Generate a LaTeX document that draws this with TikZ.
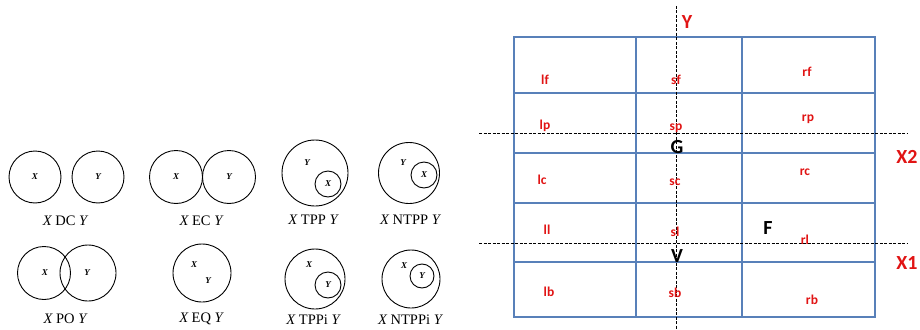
\documentclass[tikz,border=0pt]{standalone}
\usepackage{fontspec}
\setmainfont{Liberation Serif}
\newfontfamily\calfnt{Carlito}
\definecolor{gridblue}{RGB}{88,128,185}
\definecolor{lblred}{RGB}{225,20,20}
\begin{document}
\begin{tikzpicture}[x=1pt,y=-1pt,
  circ/.style={draw,circle,line width=0.9pt,inner sep=0pt},
  ctext/.style={font=\fontsize{9}{10}\selectfont\itshape\bfseries,inner sep=0pt},
  rel/.style={font=\fontsize{14.5}{16}\selectfont,inner sep=0pt},
  grid/.style={draw=gridblue,line width=1.3pt},
  cell/.style={font=\calfnt\bfseries\fontsize{13.5}{15}\selectfont,text=lblred,inner sep=0pt},
  axis/.style={font=\calfnt\bfseries\fontsize{20}{22}\selectfont,text=lblred,inner sep=0pt},
  pt/.style={font=\calfnt\bfseries\fontsize{20}{22}\selectfont,inner sep=0pt},
  dl/.style={black,line width=1pt,dash pattern=on 3pt off 1.5pt}]
\fill[white] (0,0) rectangle (920,329);
\useasboundingbox (0,0) rectangle (920,329);
% ---- RCC8 relations ----
% DC
\node[circ,minimum size=52pt] (dcx) at (35,177) {};
\node[circ,minimum size=52pt] (dcy) at (98,177) {};
\node[ctext] at (dcx) {X};
\node[ctext] at (dcy) {Y};
\node[rel] (ldc) at (65,221) {{\itshape X} DC {\itshape Y}};
% EC
\node[circ,minimum size=53pt] (ecx) at (176,177) {};
\node[circ,minimum size=53pt] (ecy) at (229,177) {};
\node[ctext] at (ecx) {X};
\node[ctext] at (ecy) {Y};
\node[rel] (lec) at (201,221) {{\itshape X} EC {\itshape Y}};
% TPP
\node[circ,minimum size=66pt] (tppy) at (315,173) {};
\node[circ,minimum size=26pt] (tppx) at (328,184) {};
\node[ctext] at (307,163) {Y};
\node[ctext] at (tppx) {X};
\node[rel] (ltpp) at (313,220) {{\itshape X} TPP {\itshape Y}};
% NTPP
\node[circ,minimum size=61pt] (ntppy) at (409,173) {};
\node[circ,minimum size=26pt] (ntppx) at (424,175) {};
\node[ctext] at (403,163) {Y};
\node[ctext] at (ntppx) {X};
\node[rel] (lntpp) at (410,220) {{\itshape X} NTPP {\itshape Y}};
% PO
\node[circ,minimum size=53pt] (pox) at (44,273) {};
\node[circ,minimum size=56pt] (poy) at (88,273) {};
\node[ctext] at (45,273) {X};
\node[ctext] at (87,273) {Y};
\node[rel] (lpo) at (65,319) {{\itshape X} PO {\itshape Y}};
% EQ
\node[circ,minimum size=58pt] (eq) at (202,273) {};
\node[ctext] at (194,265) {X};
\node[ctext] at (208,281) {Y};
\node[rel] (leq) at (201,319) {{\itshape X} EQ {\itshape Y}};
% TPPi
\node[circ,minimum size=60pt] (tppix) at (315,279) {};
\node[circ,minimum size=26pt] (tppiy) at (328,285) {};
\node[ctext] at (309,265) {X};
\node[ctext] at (tppiy) {Y};
\node[rel] (ltppi) at (313,320) {{\itshape X} TPPi {\itshape Y}};
% NTPPi
\node[circ,minimum size=58pt] (ntppix) at (411,279) {};
\node[circ,minimum size=24pt] (ntppiy) at (422,276) {};
\node[ctext] at (404,266) {X};
\node[ctext] at (ntppiy) {Y};
\node[rel] (lntppi) at (410,320) {{\itshape X} NTPPi {\itshape Y}};
% ---- grid ----
\draw[grid] (514,37) rectangle (875,317);
\draw[grid] (636,37) -- (636,317);
\draw[grid] (742,37) -- (742,317);
\foreach \yy in {93,153,203,262}{\draw[grid] (514,\yy) -- (875,\yy);}
% dashed axes
\coordinate (yt) at (676,6);
\coordinate (yb) at (676,329);
\coordinate (x2l) at (479,133);
\coordinate (x2r) at (908,133);
\coordinate (x1l) at (479,243);
\coordinate (x1r) at (908,243);
\draw[dl] (yt) -- (yb);
\draw[dl] (x2l) -- (x2r);
\draw[dl] (x1l) -- (x1r);
% cell labels
\node[cell] (lf) at (545,80) {lf};
\node[cell] (sf) at (676,80) {sf};
\node[cell] (rf) at (807,72) {rf};
\node[cell] (lp) at (545,126) {lp};
\node[cell] (sp) at (676,128) {sp};
\node[cell] (rp) at (808,119) {rp};
\node[cell] (lc) at (542,180) {lc};
\node[cell] (sc) at (675,182) {sc};
\node[cell] (rc) at (805,172) {rc};
\node[cell] (ll) at (547,230) {ll};
\node[cell] (sl) at (675,232) {sl};
\node[cell] (rl) at (805,240) {rl};
\node[cell] (lb) at (549,292) {lb};
\node[cell] (sb) at (675,293) {sb};
\node[cell] (rb) at (812,300) {rb};
% axis labels
\node[axis] (ly) at (687,22) {Y};
\node[axis] (lx2) at (907,157) {X2};
\node[axis] (lx1) at (907,263) {X1};
\node[pt] (g) at (677,147) {G};
\node[pt] (v) at (677,256) {V};
\node[pt] (f) at (768,228) {F};
\end{tikzpicture}
\end{document}
